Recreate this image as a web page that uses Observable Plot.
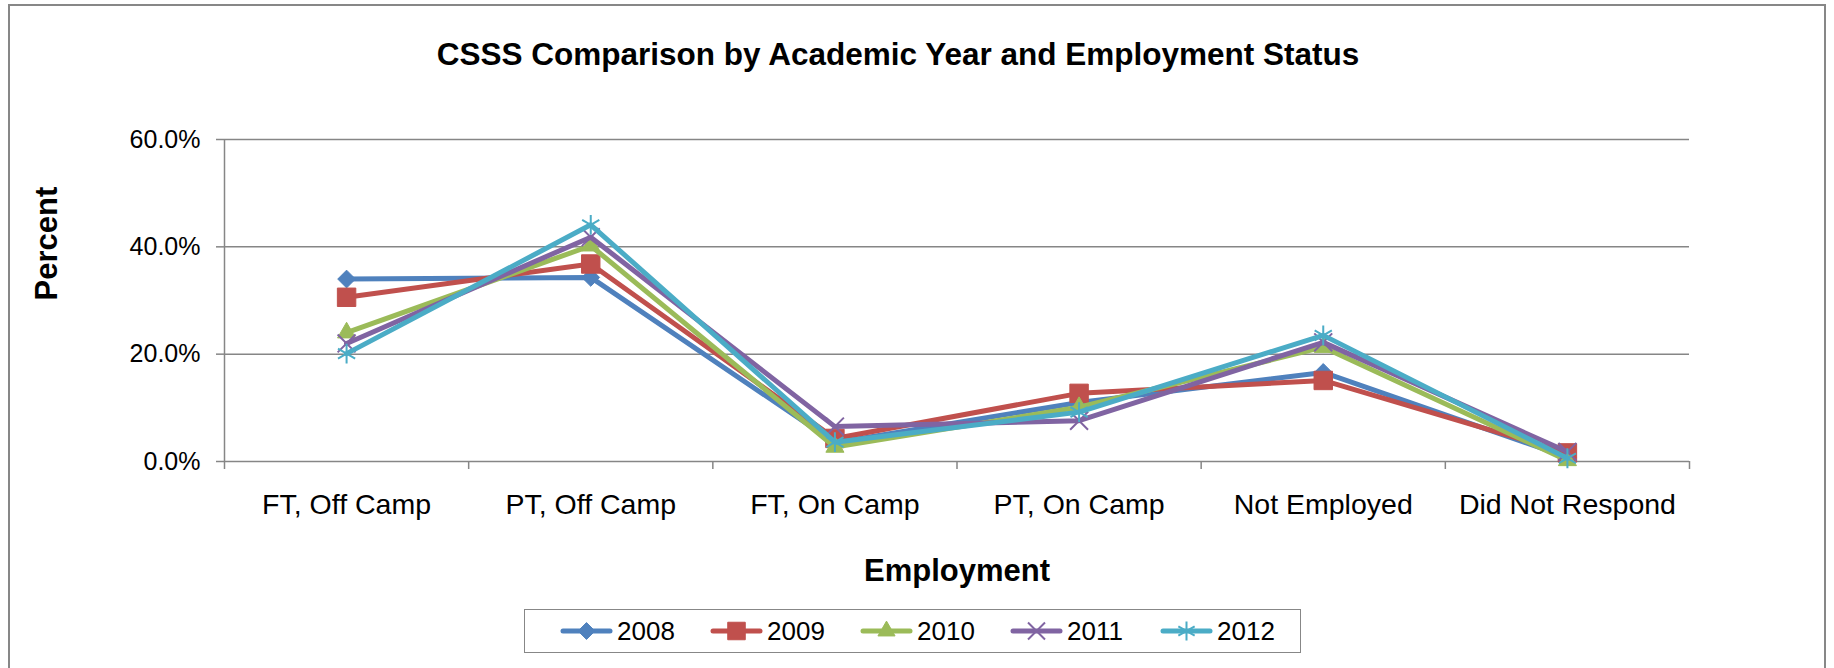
<!DOCTYPE html>
<html><head><meta charset="utf-8">
<script src="https://cdn.jsdelivr.net/npm/d3@7"></script>
<script src="https://cdn.jsdelivr.net/npm/@observablehq/plot@0.6"></script>
<style>
html,body{margin:0;padding:0;background:#fff;}
body{width:1834px;height:668px;overflow:hidden;position:relative;font-family:"Liberation Sans",Arial,sans-serif;}
#frame{position:absolute;left:8px;top:4px;width:1818px;height:720px;border:2px solid #878787;box-sizing:border-box;}
#chart{position:absolute;left:0;top:0;}
#legend{position:absolute;left:524px;top:609px;width:777px;height:44px;border:1.5px solid #878787;box-sizing:border-box;background:#fff;}
.item{position:absolute;top:0;height:100%;display:flex;align-items:center;font-size:26px;color:#000;}
.item svg{display:block;margin-right:4px;}
</style></head><body>
<div id="frame"></div>
<div id="chart"></div>
<div id="legend"></div>
<script>
const categories = ["FT, Off Camp", "PT, Off Camp", "FT, On Camp", "PT, On Camp", "Not Employed", "Did Not Respond"];
const years = ["2008", "2009", "2010", "2011", "2012"];
// percent values per series, in category order
const v2008 = [34.0, 34.3, 3.5, 11.0, 16.6, 0.8];
const v2009 = [30.6, 36.8, 4.3, 12.7, 15.1, 1.6];
const v2010 = [24.0, 40.2, 2.7, 10.1, 21.3, 0.2];
const v2011 = [22.0, 41.8, 6.5, 7.6, 22.2, 1.8];
const v2012 = [20.1, 44.1, 3.6, 9.2, 23.5, 0.6];
const yTicks = [0, 0.2, 0.4, 0.6];
const titleText = "CSSS Comparison by Academic Year and Employment Status";
const xTitle = "Employment";
const yTitle = "Percent";

const colors = ["#4F81BD", "#C0504D", "#9BBB59", "#8064A2", "#4BACC6"];
const symbols = ["diamond2", "square", "triangle", "times", "asterisk"];
const symbolR = {diamond2: 8.0, square: 10.4, triangle: 6.7, times: 8.2, asterisk: 9.4};
const filledSym = {diamond2: true, square: true, triangle: true, times: false, asterisk: false};
const d3sym = {diamond2: d3.symbolDiamond2, square: d3.symbolSquare, triangle: d3.symbolTriangle, times: d3.symbolTimes, asterisk: d3.symbolAsterisk};

const series = [v2008, v2009, v2010, v2011, v2012];
const rows = years.flatMap((yr, s) => series[s].map((v, i) => ({year: yr, cat: categories[i], value: v / 100})));
const xPos = d => categories.indexOf(d.cat) + 0.5;

const gridColor = "#868686";
const marks = [
  Plot.ruleY(yTicks.filter(t => t > 0), {stroke: gridColor, strokeWidth: 1.5}),
  Plot.axisY({ticks: yTicks, tickFormat: d3.format(".1%"), tickSize: 8, tickPadding: 16, fontSize: 25, label: null, stroke: gridColor, strokeWidth: 1.5, fill: "black"}),
  Plot.axisX({ticks: d3.range(categories.length + 1), tickSize: 8, tickFormat: () => "", label: null, stroke: gridColor, strokeWidth: 1.5}),
  Plot.axisX({ticks: categories.map((c, i) => i + 0.5), tickSize: 0, tickPadding: 32, tickFormat: t => categories[Math.round(t - 0.5)], fontSize: 28.5, label: null, fill: "black"}),
  Plot.ruleY([0], {stroke: gridColor, strokeWidth: 1.5}),
  Plot.ruleX([0], {stroke: gridColor, strokeWidth: 1.5}),
];
years.forEach((yr, s) => {
  const data = rows.filter(d => d.year === yr);
  const sym = symbols[s];
  marks.push(Plot.line(data, {x: xPos, y: "value", stroke: colors[s], strokeWidth: 5, strokeLinejoin: "round", strokeLinecap: "round"}));
  marks.push(Plot.dot(data, {x: xPos, y: "value", symbol: sym, r: symbolR[sym],
    fill: filledSym[sym] ? colors[s] : "none", stroke: colors[s], strokeWidth: filledSym[sym] ? 1 : 2}));
});
marks.push(Plot.text([titleText], {text: d => d, frameAnchor: "top", dx: -59, dy: -97, lineAnchor: "top", fontSize: 31.5, fontWeight: "bold", fill: "black"}));
marks.push(Plot.text([xTitle], {text: d => d, frameAnchor: "bottom", dy: 97, lineAnchor: "top", fontSize: 31, fontWeight: "bold", fill: "black"}));
marks.push(Plot.text([yTitle], {text: d => d, frameAnchor: "left", dx: -177, rotate: -90, lineAnchor: "middle", fontSize: 31, fontWeight: "bold", fill: "black"}));

const chart = Plot.plot({
  width: 1834, height: 600,
  marginLeft: 224, marginRight: 145, marginTop: 139, marginBottom: 139,
  style: {fontFamily: '"Liberation Sans", Arial, sans-serif', color: "black", background: "transparent", overflow: "visible"},
  x: {domain: [0, categories.length]},
  y: {domain: [0, 0.6]},
  marks
});
document.getElementById("chart").appendChild(chart);

const legend = document.getElementById("legend");
years.forEach((yr, s) => {
  const sym = symbols[s];
  const item = document.createElement("div");
  item.className = "item";
  item.style.left = (35 + s * 150) + "px";
  const ns = "http://www.w3.org/2000/svg";
  const svg = document.createElementNS(ns, "svg");
  svg.setAttribute("width", 53); svg.setAttribute("height", 26);
  const line = document.createElementNS(ns, "line");
  line.setAttribute("x1", 3); line.setAttribute("x2", 50); line.setAttribute("y1", 13); line.setAttribute("y2", 13);
  line.setAttribute("stroke", colors[s]); line.setAttribute("stroke-width", 5); line.setAttribute("stroke-linecap", "round");
  svg.appendChild(line);
  const r = symbolR[sym] * 0.95;
  const p = document.createElementNS(ns, "path");
  p.setAttribute("d", d3.symbol(d3sym[sym], Math.PI * r * r)());
  p.setAttribute("transform", "translate(26.5,13)");
  p.setAttribute("fill", filledSym[sym] ? colors[s] : "none");
  p.setAttribute("stroke", colors[s]);
  p.setAttribute("stroke-width", filledSym[sym] ? 1 : 2);
  svg.appendChild(p);
  item.appendChild(svg);
  const t = document.createElement("span");
  t.textContent = yr;
  item.appendChild(t);
  legend.appendChild(item);
});
</script>
</body></html>
